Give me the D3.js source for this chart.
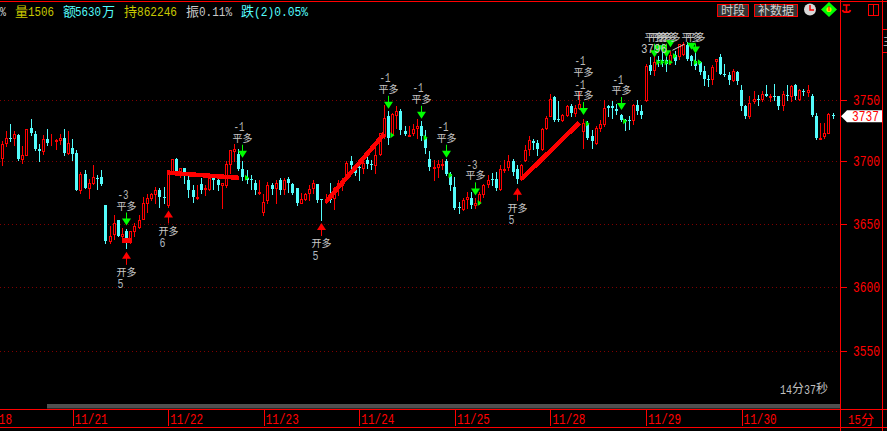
<!DOCTYPE html>
<html><head><meta charset="utf-8">
<style>html,body{margin:0;padding:0;background:#000;overflow:hidden}svg{display:block}</style>
<script src="https://cdn.jsdelivr.net/npm/d3@7"></script></head><body>
<svg id="c" width="887" height="431"></svg>
<script>
// [open, high, low, close]
const candles = [
[3704,3717,3698,3715],[3716,3725,3713,3720],[3720,3731,3717,3719],[3720,3725,3714,3723],[3722,3723,3702,3703],
[3703,3713,3700,3706],[3706,3727,3706,3727],[3728,3735,3722,3724],[3723,3725,3710,3711],[3711,3715,3701,3709],
[3709,3722,3707,3719],[3719,3727,3714,3716],[3718,3723,3714,3718],[3717,3719,3711,3718],[3718,3723,3715,3720],
[3720,3727,3706,3708],[3708,3725,3707,3716],[3712,3719,3702,3707],[3708,3710,3678,3678],[3678,3693,3676,3691],
[3691,3694,3680,3680],[3680,3687,3672,3684],[3684,3698,3683,3689],[3688,3690,3679,3687],[3689,3694,3682,3683],
[3666,3666,3636,3638],[3638,3650,3636,3642],[3643,3658,3639,3652],[3654,3654,3642,3642],[3642,3648,3637,3643],
[3646,3647,3632,3638],[3637,3646,3636,3646],[3646,3652,3642,3650],[3649,3658,3648,3654],[3655,3673,3655,3668],
[3668,3675,3661,3672],[3672,3676,3670,3675],[3675,3681,3668,3678],[3678,3680,3665,3673],[3673,3681,3668,3672],
[3666,3694,3665,3694],[3692,3703,3692,3703],[3703,3704,3690,3692],[3692,3696,3689,3696],[3696,3696,3684,3692],
[3686,3692,3673,3678],[3678,3682,3669,3673],[3672,3682,3671,3673],[3683,3688,3676,3678],[3679,3682,3674,3680],
[3679,3689,3678,3688],[3688,3689,3679,3686],[3686,3687,3678,3682],[3682,3684,3664,3684],[3682,3701,3681,3699],
[3699,3710,3692,3710],[3709,3715,3701,3711],[3707,3711,3694,3695],[3695,3701,3686,3689],[3688,3694,3684,3686],
[3687,3690,3679,3686],[3684,3686,3675,3678],[3676,3686,3675,3677],[3661,3675,3658,3669],[3670,3685,3668,3682],
[3682,3684,3675,3679],[3680,3686,3668,3684],[3686,3688,3675,3678],[3679,3688,3675,3686],[3687,3689,3677,3684],
[3683,3684,3675,3676],[3680,3680,3666,3668],[3668,3676,3668,3671],[3671,3676,3670,3675],[3676,3682,3670,3679],
[3680,3686,3676,3684],[3683,3683,3669,3670],[3671,3671,3654,3670],[3669,3675,3668,3671],[3675,3684,3669,3670],
[3672,3681,3663,3680],[3680,3686,3674,3684],[3682,3688,3678,3685],[3689,3701,3688,3700],[3701,3705,3694,3698],
[3696,3697,3690,3692],[3697,3702,3686,3696],[3696,3705,3692,3700],[3702,3706,3696,3699],[3699,3702,3695,3698],
[3698,3712,3692,3706],[3707,3724,3706,3724],[3721,3746,3720,3736],[3737,3741,3715,3720],[3723,3740,3722,3739],
[3738,3745,3728,3741],[3741,3743,3723,3726],[3725,3729,3722,3723],[3721,3729,3721,3722],[3724,3731,3722,3727],
[3728,3735,3720,3729],[3729,3733,3718,3721],[3720,3726,3708,3712],[3703,3709,3694,3697],[3696,3702,3686,3697],
[3697,3702,3689,3699],[3698,3703,3695,3699],[3701,3703,3690,3691],[3691,3693,3678,3682],[3681,3689,3663,3664],
[3665,3669,3660,3664],[3663,3672,3662,3670],[3671,3677,3664,3673],[3672,3677,3664,3666],[3666,3672,3664,3668],
[3668,3677,3667,3675],[3675,3683,3673,3682],[3683,3690,3681,3686],[3687,3692,3682,3686],[3687,3693,3678,3680],
[3679,3698,3678,3695],[3694,3702,3693,3695],[3697,3706,3694,3701],[3701,3703,3690,3693],[3695,3698,3684,3687],
[3687,3699,3686,3698],[3702,3714,3701,3710],[3711,3721,3706,3718],[3717,3719,3711,3716],[3716,3718,3706,3711],
[3711,3728,3710,3727],[3728,3737,3727,3736],[3737,3755,3737,3751],[3752,3753,3733,3734],[3735,3749,3733,3734],
[3734,3739,3733,3738],[3738,3746,3737,3745],[3745,3747,3737,3740],[3740,3746,3737,3744],[3744,3757,3743,3747],
[3725,3735,3712,3732],[3731,3733,3719,3720],[3721,3726,3712,3717],[3716,3729,3715,3728],[3728,3734,3725,3731],
[3731,3750,3729,3744],[3745,3746,3737,3744],[3745,3749,3736,3744],[3743,3747,3739,3741],[3738,3739,3733,3734],
[3734,3735,3726,3733],[3734,3737,3727,3733],[3734,3747,3731,3746],[3746,3750,3739,3741],[3741,3746,3736,3738],
[3750,3779,3749,3777],[3778,3784,3771,3773],[3774,3786,3770,3780],[3782,3785,3777,3781],[3782,3790,3777,3781],
[3782,3787,3773,3779],[3781,3789,3779,3786],[3786,3789,3779,3781],[3785,3795,3783,3795],[3787,3796,3786,3795],
[3794,3796,3782,3783],[3785,3786,3778,3781],[3781,3788,3775,3777],[3780,3781,3771,3772],[3773,3777,3762,3767],
[3767,3770,3761,3766],[3767,3778,3763,3776],[3781,3783,3773,3783],[3784,3787,3771,3771],[3771,3779,3769,3770],
[3770,3772,3763,3766],[3766,3775,3765,3773],[3772,3773,3763,3765],[3758,3762,3742,3745],[3745,3746,3736,3737],
[3737,3753,3736,3748],[3749,3757,3748,3751],[3751,3754,3746,3750],[3751,3757,3749,3755],[3755,3762,3753,3753],
[3752,3755,3749,3753],[3753,3763,3750,3752],[3753,3753,3743,3745],[3746,3757,3742,3755],[3754,3762,3750,3753],
[3753,3762,3749,3761],[3762,3763,3751,3753],[3751,3759,3750,3758],[3757,3759,3754,3756],[3756,3762,3753,3758],
[3753,3755,3737,3738],[3737,3740,3719,3720],[3719,3732,3719,3720],[3721,3732,3720,3724],[3724,3740,3724,3739],
[3738,3740,3736,3737]];

const gridPrices = [3750,3701,3651,3601,3550];
const priceLabels = ["3750","3700","3650","3600","3550"];
const lastPrice = 3737;
const dayStarts = [-6,17,40,63,86,109,132,155,178];
const dateLabels = ["11/18","11/21","11/22","11/23","11/24","11/25","11/28","11/29","11/30"];

// thick holding lines: [start index, start price, end index, end price]
const holdLines = [[29,3638,31,3638],[40,3692,57,3688],[78,3669,92,3723],[125,3687,139,3732]];

const openIdx   = [30,40,77,124];
const openTip   = [3629,3662,3652,3680];
const openLots  = ["5","6","5","5"];
const closeIdx  = [30,58,93,101,107,114,140,149,157,158,159,160,161,166,167];
const closeTip  = [3650,3704,3743,3735,3704,3674,3738,3742,3784,3788,3788,3784,3792,3790,3787];
const closeLots = ["-3","-1","-1","-1","-1","-3","-1","-1","","","","","","",""];
// the crowded signals at the top share one text level
const closeTextPrice = [0,0,0,0,0,0,0,0,3800,3800,3800,3800,3800,3800,3800];
const extraCloseIdx = 140, extraClosePrice = 3772;
const hitIdx   = [58,93,101,107,114,140,149,157,158,159,160,161,166,167];
const hitPrice = [3688,3722,3720,3690,3668,3731,3733,3780,3780,3780,3780,3785,3780,3780];

const RED="#ff0000", CY="#54fcfc", GR="#00ff00", YE="#c8c800", GY="#c8c8c8";
const MONO="'Liberation Mono','DejaVu Sans Mono',monospace", CJK="'Noto Sans CJK SC',sans-serif";

const svg=d3.select("#c");
svg.append("rect").attr("width",887).attr("height",431).attr("fill","#000");

const x=d3.scaleLinear().domain([0,200]).range([2,833]);
const y=d3.scaleLinear().domain([3750,3550]).range([100,351]);
const col=i=>Math.floor(x(i));
const py=v=>Math.round(y(v));

function num(g,px,py_,s,fill,w,size){
  return g.append("text").attr("x",px).attr("y",py_).attr("dy","0.35em").text(s)
    .attr("fill",fill).attr("font-family",MONO).attr("font-size",size||13)
    .attr("textLength",w).attr("lengthAdjust","spacingAndGlyphs");
}
function cjk(g,px,py_,s,fill,size,anchor){
  return g.append("text").attr("x",px).attr("y",py_).attr("dy","0.36em").text(s)
    .attr("fill",fill).attr("font-family",CJK).attr("font-size",size||12).attr("text-anchor",anchor||"start");
}

// grid
const grid=svg.append("g").attr("shape-rendering","crispEdges");
grid.selectAll("line").data(gridPrices).join("line")
  .attr("x1",0).attr("x2",840).attr("y1",d=>py(d)+.5).attr("y2",d=>py(d)+.5)
  .attr("stroke","#800000").attr("stroke-dasharray","1 3");

// candles
const cg=svg.append("g").attr("shape-rendering","crispEdges");
const bars=cg.selectAll("g").data(candles).join("g").attr("transform",(d,i)=>`translate(${col(i)},0)`);
const colour=d=>d[3]>=d[0]?RED:CY;
bars.append("rect").attr("x",0).attr("width",1)
  .attr("y",d=>py(d[1])).attr("height",d=>Math.max(1,py(d[2])-py(d[1])+1)).attr("fill",colour);
bars.append("rect")
  .attr("x",d=>d[3]>=d[0]?-0.5:-1)
  .attr("width",d=>d[3]>=d[0]?2:3)
  .attr("y",d=>{const t=py(Math.max(d[0],d[3]));return d[3]>=d[0]?t+.5:t;})
  .attr("height",d=>{const h=py(Math.min(d[0],d[3]))-py(Math.max(d[0],d[3]));return d[3]>=d[0]?Math.max(0,h):Math.max(1,h);})
  .attr("fill",d=>d[3]>=d[0]?"#000":CY)
  .attr("stroke",d=>d[3]>=d[0]?RED:"none");

// hold lines
svg.append("g").selectAll("line").data(holdLines).join("line")
  .attr("x1",d=>x(d[0])).attr("y1",d=>y(d[1])).attr("x2",d=>x(d[2])).attr("y2",d=>y(d[3]))
  .attr("stroke",RED).attr("stroke-width",4.5).attr("shape-rendering","crispEdges");

// small hit triangles
svg.append("g").selectAll("path").data(hitIdx).join("path")
  .attr("d",(d,i)=>{const a=x(d)+2,b=y(hitPrice[i]);return `M${a},${b-3}L${a+4},${b}L${a},${b+3}Z`;})
  .attr("fill",GR);

// open signals
const og=svg.append("g");
openIdx.forEach((d,i)=>{
  const a=col(d)+.5,t=y(openTip[i]);
  og.append("line").attr("x1",a).attr("x2",a).attr("y1",t+5).attr("y2",t+13).attr("stroke",RED);
  og.append("path").attr("d",`M${a},${t}L${a+4.5},${t+7}L${a-4.5},${t+7}Z`).attr("fill",RED);
  cjk(og,a,t+20.5,"开多",GY,10,"middle");
  num(og,a-9,t+32,openLots[i],"#b0b8c0",6);
});

// close signals
const kg=svg.append("g");
closeIdx.forEach((d,i)=>{
  const a=col(d)+.5,t=y(closeTip[i]);
  const textY=closeTextPrice[i]?y(closeTextPrice[i]):t-19.5;
  kg.append("line").attr("x1",a).attr("x2",a).attr("y1",textY+6.5).attr("y2",t-5).attr("stroke",GR);
  kg.append("path").attr("d",`M${a},${t}L${a+4.5},${t-7}L${a-4.5},${t-7}Z`).attr("fill",GR);
  cjk(kg,a,textY,"平多",GY,10,"middle");
  if(closeLots[i]) num(kg,a-9,textY-11.5,closeLots[i],"#b8b8b8",11);
});
{
  const a=col(extraCloseIdx)+.5;
  cjk(kg,a,y(extraClosePrice),"平多",GY,10,"middle");
  num(kg,a-9,y(extraClosePrice)-11.5,"-1","#b8b8b8",11);
}

// highest price note
const maxI=d3.maxIndex(candles,d=>d[1]);
kg.append("line").attr("x1",x(maxI)-11).attr("y1",y(candles[maxI][1])+8).attr("x2",x(maxI)+1).attr("y2",y(candles[maxI][1])+2).attr("stroke","#d0d0d0");
num(kg,641,48,String(candles[maxI][1]),"#c8c8c8",26);

// frame
const fr=svg.append("g").attr("stroke",RED).attr("shape-rendering","crispEdges");
fr.append("line").attr("x1",0).attr("x2",887).attr("y1",1.5).attr("y2",1.5);
fr.append("line").attr("x1",840.5).attr("x2",840.5).attr("y1",0).attr("y2",431);
fr.append("line").attr("x1",882.5).attr("x2",882.5).attr("y1",0).attr("y2",431);
fr.append("line").attr("x1",0).attr("x2",887).attr("y1",409.5).attr("y2",409.5);
fr.append("line").attr("x1",0).attr("x2",887).attr("y1",427.5).attr("y2",427.5);
fr.append("line").attr("x1",882).attr("x2",887).attr("y1",29.5).attr("y2",29.5);
fr.append("line").attr("x1",882).attr("x2",887).attr("y1",52.5).attr("y2",52.5);

// y axis
const ya=svg.append("g").attr("transform","translate(840,0)")
  .call(d3.axisRight(y).tickValues(gridPrices).tickSize(7).tickFormat((d,i)=>priceLabels[i]));
ya.select(".domain").remove();
ya.selectAll("line").attr("stroke",RED).attr("shape-rendering","crispEdges");
ya.selectAll("text").attr("fill",RED).attr("font-family",MONO).attr("font-size",14).attr("x",13)
  .attr("textLength",27).attr("lengthAdjust","spacingAndGlyphs");

// x axis
const xa=svg.append("g").attr("transform","translate(0,409)")
  .call(d3.axisBottom(x).tickValues(dayStarts).tickSize(17).tickFormat((d,i)=>dateLabels[i]));
xa.select(".domain").remove();
xa.selectAll("line").attr("stroke",RED).attr("shape-rendering","crispEdges");
xa.selectAll("text").attr("fill",RED).attr("font-family",MONO).attr("font-size",14)
  .attr("x",1.5).attr("y",10).attr("dy","0.35em").attr("text-anchor","start")
  .attr("textLength",33).attr("lengthAdjust","spacingAndGlyphs");

// last price flag
const fl=svg.append("g");
const ly=y(lastPrice);
fl.append("path").attr("d",`M841,${ly}L847,${ly-6}L882,${ly-6}L882,${ly+6}L847,${ly+6}Z`).attr("fill","#fff");
num(fl,852,ly,String(lastPrice),RED,27,14);

// scrollbar and footer
svg.append("rect").attr("x",47).attr("y",404).attr("width",793).attr("height",4.5).attr("fill","#505050");
num(svg,780,389,"14","#c0c0c0",12);
cjk(svg,792,389,"分","#c0c0c0",12);
num(svg,804,389,"37","#c0c0c0",12);
cjk(svg,816,389,"秒","#c0c0c0",12);
num(svg,848,419,"15",RED,13);
cjk(svg,861,419,"分",RED,13);

// header
const h=svg.append("g");
num(h,0,11,"%","#d0d0d0",6);
cjk(h,15,11,"量",YE,13); num(h,28,11,"1506",YE,26);
cjk(h,63,11,"额",CY,13); num(h,75,11,"5630",CY,26); cjk(h,102,11,"万",CY,13);
cjk(h,124,11,"持",YE,13); num(h,137,11,"862246",YE,40);
cjk(h,186,11,"振","#c8c8c8",13); num(h,199,11,"0.11%","#c8c8c8",33);
cjk(h,241,11,"跌",CY,13); num(h,254,11,"(2)0.05%",CY,54);

// toolbar
const tb=svg.append("g");
[[717,31,"时段"],[754,43,"补数据"]].forEach(b=>{
  tb.append("rect").attr("x",b[0]+.5).attr("y",4.5).attr("width",b[1]).attr("height",12)
    .attr("fill","#333").attr("stroke",RED).attr("shape-rendering","crispEdges");
  cjk(tb,b[0]+b[1]/2+.5,10.5,b[2],"#d0d0d0",12,"middle");
});
tb.append("circle").attr("cx",810).attr("cy",9.5).attr("r",6).attr("fill","#d8d8d8");
tb.append("path").attr("d","M810,5V10H814").attr("stroke",RED).attr("stroke-width",1.5).attr("fill","none");
tb.append("path").attr("d","M829,2L837,9.5L829,17L821,9.5Z").attr("fill",GR);
tb.append("circle").attr("cx",829).attr("cy",9.5).attr("r",2.6).attr("fill","#e8e800");
tb.append("rect").attr("x",828.5).attr("y",6).attr("width",1).attr("height",5).attr("fill",RED);
tb.append("path").attr("d","M843,5H850M846.5,5V13M842.5,10C843,13 850,13 850.5,10").attr("stroke",RED).attr("stroke-width",1.6).attr("fill","none");
tb.append("rect").attr("x",868.5).attr("y",4.5).attr("width",10).attr("height",11).attr("fill","none").attr("stroke",RED).attr("shape-rendering","crispEdges");
tb.append("line").attr("x1",873.5).attr("x2",873.5).attr("y1",4).attr("y2",16).attr("stroke",RED).attr("shape-rendering","crispEdges");
cjk(tb,883,41,"主","#c8c8c8",11);
</script></body></html>
